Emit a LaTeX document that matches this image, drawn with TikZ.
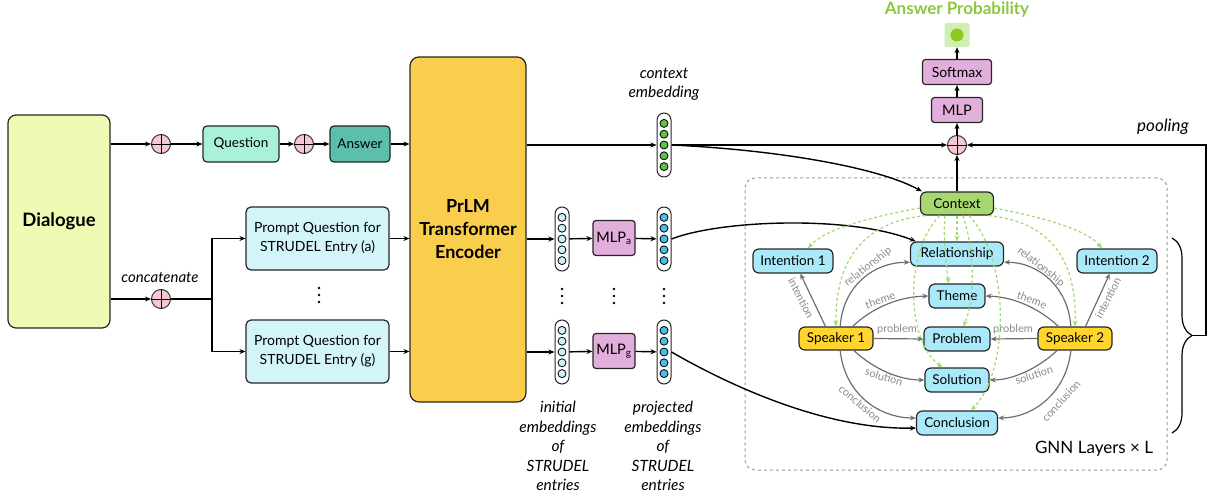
\documentclass[tikz,border=0pt]{standalone}
\usepackage{fontspec}
\setmainfont{Lato}
\usetikzlibrary{arrows.meta,decorations.pathreplacing,calc}
\definecolor{dialfill}{HTML}{F1FAB4}
\definecolor{qfill}{HTML}{A9F2D9}
\definecolor{afill}{HTML}{5CBFAD}
\definecolor{promptfill}{HTML}{D3F5FA}
\definecolor{prlmfill}{HTML}{F9CE4D}
\definecolor{mlpfill}{HTML}{E2AEDB}
\definecolor{pinkfill}{HTML}{F6C9D2}
\definecolor{vgreen}{HTML}{5CC144}
\definecolor{vblue}{HTML}{4DBCE9}
\definecolor{vlight}{HTML}{CBF1F9}
\definecolor{cyanfill}{HTML}{A9E9F9}
\definecolor{ctxfill}{HTML}{A7D770}
\definecolor{spkfill}{HTML}{FFD52E}
\definecolor{dashgreen}{HTML}{9DDB6E}
\definecolor{edgegray}{HTML}{6E6E6E}
\definecolor{labgray}{HTML}{8A8A8A}
\definecolor{probgreen}{HTML}{8DC63F}
\definecolor{probsq}{HTML}{D2EEB5}
\definecolor{probdot}{HTML}{8CCB1A}
\definecolor{boxgray}{HTML}{9A9A9A}
\newcommand\dotvec[4]{%
  \node[vecbox] (#1) at (#2,#3) {};
  \foreach \k in {-2,...,2} \draw[fill=#4, line width=0.8pt] (#2,{#3+\k*10.8}) circle (4pt);}
\newcommand\plusnode[3]{%
  \node[plusc] (#1) at (#2,#3) {};
  \draw[line width=0.9pt] (#1.north) -- (#1.south) (#1.west) -- (#1.east);}
\newcommand\vdotsnode[3]{%
  \node[minimum width=4pt, minimum height=16pt] (#1) at (#2,#3) {};
  \foreach \k in {-1,0,1} \fill (#2,{#3+\k*7}) circle (1.4pt);}
\begin{document}
\begin{tikzpicture}[x=1pt,y=-1pt,
  every node/.style={font=\fontsize{13.5}{16}\selectfont, inner sep=0pt},
  box/.style={draw=black!85, line width=1.2pt, rounded corners=4pt, align=center},
  ar/.style={-{Stealth[length=6pt,width=5pt]}, line width=1.4pt},
  gedge/.style={-{Stealth[length=6pt,width=5pt]}, line width=1.2pt, draw=edgegray},
  gdash/.style={-{Stealth[length=6pt,width=5pt]}, line width=1.2pt, draw=dashgreen, dash pattern=on 3pt off 2.5pt},
  elab/.style={font=\fontsize{11}{12}\selectfont, text=labgray},
  plusc/.style={circle, draw=black!80, fill=pinkfill, minimum size=19pt, line width=1pt},
  gnode/.style={box, fill=cyanfill, minimum height=24pt, rounded corners=6pt},
  vecbox/.style={draw=black!85, line width=1pt, rounded corners=7pt, minimum width=14pt, minimum height=64pt, fill=white},
  ital/.style={font=\itshape\fontsize{15.5}{19.5}\selectfont, align=center},
]
\useasboundingbox (0,0) rectangle (1212,497);

% GNN frame
\node[draw=boxgray, dashed, line width=1pt, rounded corners=10pt, minimum width=422pt, minimum height=292pt] (gnnbox) at (956,324) {};
\node[font=\fontsize{17}{20}\selectfont] (gnnlab) at (1094,449) {GNN Layers × L};

% left part
\node[box, fill=dialfill, minimum width=102pt, minimum height=213pt, rounded corners=8pt, font=\bfseries\fontsize{18.5}{22}\selectfont] (dialogue) at (59,221.5) {Dialogue};
\plusnode{p1}{161}{144}
\plusnode{p2}{304}{144}
\plusnode{p3}{161}{299}
\node[box, fill=qfill, minimum width=76pt, minimum height=36pt] (question) at (241,144) {Question};
\node[box, fill=afill, minimum width=60pt, minimum height=36pt] (answer) at (360,144) {Answer};
\node[font=\itshape\fontsize{15}{17}\selectfont] (concat) at (160,278) {concatenate};
\node[box, fill=promptfill, minimum width=143pt, minimum height=63pt, rounded corners=5pt, align=center, font=\fontsize{14}{19}\selectfont] (prompta) at (317.5,238.5) {Prompt Question for\\STRUDEL Entry (a)};
\node[box, fill=promptfill, minimum width=143pt, minimum height=63pt, rounded corners=5pt, align=center, font=\fontsize{14}{19}\selectfont] (promptg) at (317.5,351.5) {Prompt Question for\\STRUDEL Entry (g)};
\vdotsnode{pdots}{319}{295}
\coordinate (br) at (212,299);

\node[box, fill=prlmfill, minimum width=116pt, minimum height=345pt, rounded corners=9pt, font=\bfseries\fontsize{18}{23}\selectfont] (prlm) at (468,229.5) {PrLM\\Transformer\\Encoder};

\draw[ar] (dialogue.east |- p1) -- (p1);
\draw[ar] (p1) -- (question);
\draw[ar] (question) -- (p2);
\draw[ar] (p2) -- (answer);
\draw[ar] (answer) -- (answer -| prlm.west);
\draw[ar] (dialogue.east |- p3) -- (p3);
\draw[line width=1.4pt] (p3) -- (br);
\draw[ar] (br) |- (prompta);
\draw[ar] (br) |- (promptg);
\draw[ar] (prompta) -- (prompta -| prlm.west);
\draw[ar] (promptg) -- (promptg -| prlm.west);

% embeddings
\dotvec{ctxvec}{664}{145}{vgreen}
\dotvec{inita}{562}{239}{vlight}
\dotvec{initg}{562}{352}{vlight}
\dotvec{proja}{664}{239}{vblue}
\dotvec{projg}{664}{352}{vblue}
\node[box, fill=mlpfill, minimum width=42pt, minimum height=35pt, rounded corners=3pt, font=\fontsize{14.5}{16}\selectfont] (mlpa) at (614,238) {MLP\textsubscript{a}};
\node[box, fill=mlpfill, minimum width=42pt, minimum height=35pt, rounded corners=3pt, font=\fontsize{14.5}{16}\selectfont] (mlpg) at (614,351) {MLP\textsubscript{g}};
\vdotsnode{d1}{562}{296}
\vdotsnode{d2}{614}{296}
\vdotsnode{d3}{664}{296}
\node[ital] (ctxlab) at (664,84) {context\\embedding};
\node[ital] (initlab) at (558,446) {initial\\embeddings\\of\\STRUDEL\\entries};
\node[ital] (projlab) at (663,446) {projected\\embeddings\\of\\STRUDEL\\entries};

\draw[ar] (prlm.east |- ctxvec) -- (ctxvec);
\draw[ar] (prlm.east |- inita) -- (inita);
\draw[ar] (prlm.east |- initg) -- (initg);
\draw[ar] (inita) -- (mlpa);
\draw[ar] (mlpa) -- (proja);
\draw[ar] (initg) -- (mlpg);
\draw[ar] (mlpg) -- (projg);

% top right
\plusnode{pd}{957}{145}
\node[box, fill=mlpfill, minimum width=51pt, minimum height=25pt, rounded corners=3pt, font=\fontsize{14.5}{16}\selectfont] (mlptop) at (957,110) {MLP};
\node[box, fill=mlpfill, minimum width=69pt, minimum height=25pt, rounded corners=3pt, font=\fontsize{14}{16}\selectfont] (softmax) at (957,72) {Softmax};
\node[fill=probsq, minimum width=25pt, minimum height=24pt, rounded corners=2pt] (prob) at (957,35) {};
\fill[probdot] (prob.center) circle (6.5pt);
\node[font=\bfseries\fontsize{17}{20}\selectfont, text=probgreen] (aptitle) at (957,10) {Answer Probability};
\node[font=\itshape\fontsize{17}{20}\selectfont] (poollab) at (1163,127) {pooling};
\draw[ar] (pd) -- (mlptop);
\draw[ar] (mlptop) -- (softmax);
\draw[ar] (softmax) -- (prob);
\draw[ar] (ctxvec) -- (pd);

% graph nodes
\node[box, fill=ctxfill, minimum width=73pt, minimum height=23pt, rounded corners=6pt] (context) at (957,203.5) {Context};
\node[gnode, minimum width=93pt] (relationship) at (957,254) {Relationship};
\node[gnode, minimum width=80pt] (intention1) at (793,261) {Intention 1};
\node[gnode, minimum width=80pt] (intention2) at (1117,261) {Intention 2};
\node[gnode, minimum width=56pt] (theme) at (957,296) {Theme};
\node[gnode, minimum width=66pt] (problem) at (957,339) {Problem};
\node[gnode, minimum width=64pt] (solution) at (957,380) {Solution};
\node[gnode, minimum width=81pt] (conclusion) at (957,423) {Conclusion};
\node[box, fill=spkfill, minimum width=74pt, minimum height=23pt, rounded corners=6pt] (speaker1) at (836,338.5) {Speaker 1};
\node[box, fill=spkfill, minimum width=74pt, minimum height=23pt, rounded corners=6pt] (speaker2) at (1075,338.5) {Speaker 2};

\draw[ar] (context) -- (pd);
\draw[ar] (ctxvec.east) .. controls (780,150) and (880,168) .. (context.161);
\draw[ar] (proja.east) .. controls (720,220) and (850,215) .. (relationship.163);
\draw[ar] (projg.east) .. controls (720,380) and (820,430) .. (conclusion.187);

% speaker edges
\draw[gedge] (speaker1.131) -- (intention1.-60);
\draw[gedge] (speaker1.71) .. controls (843,285) and (875,262) .. (relationship.190);
\draw[gedge] (speaker1.36) .. controls (870,310) and (895,297) .. (theme.west);
\draw[gedge] (speaker1.east) -- (problem.west);
\draw[gedge] (speaker1.-34) .. controls (875,370) and (900,380) .. (solution.west);
\draw[gedge] (speaker1.-71) .. controls (845,395) and (880,418) .. (conclusion.173);
\draw[gedge] (speaker2.49) -- (intention2.-120);
\draw[gedge] (speaker2.109) .. controls (1068,285) and (1036,262) .. (relationship.-10);
\draw[gedge] (speaker2.144) .. controls (1041,310) and (1016,297) .. (theme.east);
\draw[gedge] (speaker2.west) -- (problem.east);
\draw[gedge] (speaker2.-146) .. controls (1036,370) and (1011,380) .. (solution.east);
\draw[gedge] (speaker2.-109) .. controls (1066,395) and (1031,418) .. (conclusion.7);

\node[elab, rotate=-63] (l1) at (801,298) {intention};
\node[elab, rotate=38] (l2) at (868,267) {relationship};
\node[elab, rotate=20] (l3) at (880,300) {theme};
\node[elab] (l4) at (897,329) {problem};
\node[elab, rotate=-18] (l5) at (884,377) {solution};
\node[elab, rotate=-40] (l6) at (860,404) {conclusion};
\node[elab, rotate=63] (r1) at (1108,298) {intention};
\node[elab, rotate=-38] (r2) at (1041,267) {relationship};
\node[elab, rotate=-20] (r3) at (1032,300) {theme};
\node[elab] (r4) at (1013,329) {problem};
\node[elab, rotate=18] (r5) at (1034,375) {solution};
\node[elab, rotate=48] (r6) at (1061,401) {conclusion};

% context dashed edges
\draw[gdash] (context.187) .. controls (880,215) and (825,228) .. (intention1.40);
\draw[gdash] (context.201) .. controls (862,222) and (835,262) .. (speaker1.90);
\draw[gdash] (context.215) .. controls (905,250) and (905,340) .. (solution.139);
\draw[gdash] (context.225) .. controls (943,240) and (946,262) .. (theme.124);
\draw[gdash] (context.south) -- (relationship.north);
\draw[gdash] (context.-64) .. controls (975,250) and (975,300) .. (problem.63);
\draw[gdash] (context.-45) .. controls (1010,260) and (1010,370) .. (conclusion.42);
\draw[gdash] (context.-21) .. controls (1052,222) and (1077,262) .. (speaker2.90);
\draw[gdash] (context.-7) .. controls (1031,215) and (1086,228) .. (intention2.140);

% brace and pooling
\draw[decorate, decoration={brace, amplitude=20pt}, line width=1.2pt] (1172,238) -- (1172,433);
\coordinate (brtip) at (1192,335.5);
\coordinate (pcorner) at (1206,335.5);
\draw[ar] (brtip) -- (pcorner) |- (pd);
\end{tikzpicture}
\end{document}
